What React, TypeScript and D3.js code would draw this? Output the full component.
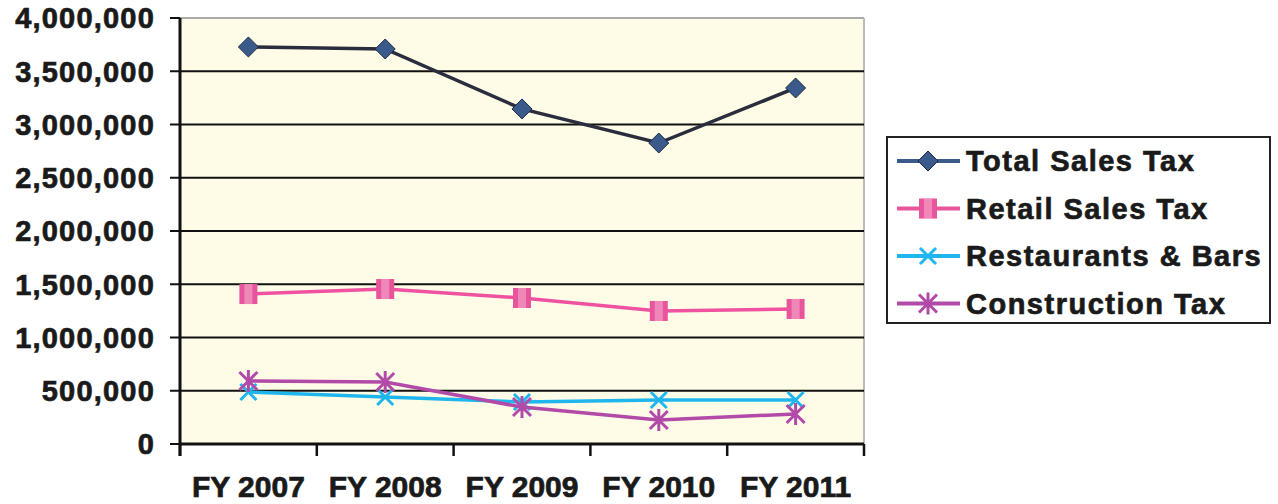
import React from "react";
import * as d3 from "d3";

// categories and series
const years = ["FY 2007", "FY 2008", "FY 2009", "FY 2010", "FY 2011"];
const totalSales = [3728000, 3709000, 3146000, 2826000, 3343000];
const retailSales = [1408000, 1455000, 1371000, 1249000, 1268000];
const restaurants = [488000, 441000, 394000, 413000, 413000];
const construction = [592000, 582000, 347000, 225000, 282000];
const yTicks = [0, 500000, 1000000, 1500000, 2000000, 2500000, 3000000, 3500000, 4000000];

const seriesList = [
  { name: "Total Sales Tax", values: totalSales, line: "#2a2d3e", fill: "#3b5a8c", marker: "diamond" },
  { name: "Retail Sales Tax", values: retailSales, line: "#f052a2", fill: "#e8559c", marker: "square" },
  { name: "Restaurants & Bars", values: restaurants, line: "#1fb6ee", fill: "#1fb6ee", marker: "x" },
  { name: "Construction Tax", values: construction, line: "#b24aaa", fill: "#b24aaa", marker: "star" },
];

const W = 1278;
const H = 504;
const left = 180;
const right = 864;
const top = 18;
const bottom = 444;
const font = "'Liberation Sans', Arial, sans-serif";
const ink = "#1a1a1a";

function Marker({ kind, x, y, color }) {
  if (kind === "diamond") {
    const s = 10;
    return <path d={`M${x},${y - s}L${x + s},${y}L${x},${y + s}L${x - s},${y}Z`} fill={color} stroke="#1e2a44" strokeWidth={1} />;
  }
  if (kind === "square") {
    return (
      <g>
        <rect x={x - 9} y={y - 10} width={18} height={20} fill={color} />
        <rect x={x - 4} y={y - 10} width={8} height={20} fill="#f49cc6" opacity={0.7} />
      </g>
    );
  }
  if (kind === "x") {
    const s = 8;
    return <path d={`M${x - s},${y - s}L${x + s},${y + s}M${x - s},${y + s}L${x + s},${y - s}`} stroke={color} strokeWidth={3} />;
  }
  const s = 9;
  return (
    <path
      d={`M${x - s},${y - s}L${x + s},${y + s}M${x - s},${y + s}L${x + s},${y - s}M${x},${y - s - 2}L${x},${y + s + 2}`}
      stroke={color}
      strokeWidth={3}
    />
  );
}

export default function App() {
  const x = d3.scaleBand().domain(years).range([left, right]);
  const y = d3.scaleLinear().domain([0, 4000000]).range([bottom, top]);
  const fmt = d3.format(",");

  const lineGen = d3
    .line<number>()
    .x((_, i) => (x(years[i]) as number) + x.bandwidth() / 2)
    .y((d) => y(d));

  const legendX = 887;
  const legendY = 137;
  const rowH = 47.5;

  const textStyle = { fontFamily: font, fontWeight: "bold", fill: ink, stroke: ink, strokeWidth: 0.7 } as const;

  return (
    <svg width={W} height={H} style={{ position: "absolute", left: 0, top: 0, background: "#fff" }}>
      {/* plot area */}
      <rect x={left} y={top} width={right - left} height={bottom - top} fill="#fefce6" />
      <line x1={left} x2={right} y1={top} y2={top} stroke="#aaa" strokeWidth={2} />
      <line x1={right} x2={right} y1={top} y2={bottom} stroke="#bbb" strokeWidth={2} />

      {/* gridlines and y labels */}
      {yTicks.map((t) => (
        <g key={t}>
          {t > 0 && t < 4000000 && (
            <line x1={left} x2={right} y1={y(t)} y2={y(t)} stroke="#111" strokeWidth={2} />
          )}
          <line x1={left - 10} x2={left} y1={y(t)} y2={y(t)} stroke="#111" strokeWidth={2} />
          <text x={155} y={y(t)} dy="0.36em" textAnchor="end" fontSize={29} letterSpacing={1.2} {...textStyle}>
            {fmt(t)}
          </text>
        </g>
      ))}

      {/* axes */}
      <line x1={left} x2={left} y1={top} y2={bottom + 12} stroke="#111" strokeWidth={3} />
      <line x1={left} x2={right} y1={bottom} y2={bottom} stroke="#111" strokeWidth={3} />
      {years.concat(["end"]).map((yr, i) => {
        const px = left + i * x.bandwidth();
        return <line key={yr} x1={px} x2={px} y1={bottom} y2={bottom + 12} stroke="#111" strokeWidth={2.5} />;
      })}
      {years.map((yr) => (
        <text key={yr} x={(x(yr) as number) + x.bandwidth() / 2} y={497} textAnchor="middle" fontSize={30} {...textStyle}>
          {yr}
        </text>
      ))}

      {/* series */}
      {seriesList.map((s) => (
        <g key={s.name}>
          <path d={lineGen(s.values) as string} fill="none" stroke={s.line} strokeWidth={3.5} />
          {s.values.map((v, i) => (
            <Marker key={i} kind={s.marker} x={(x(years[i]) as number) + x.bandwidth() / 2} y={y(v)} color={s.fill} />
          ))}
        </g>
      ))}

      {/* legend */}
      <rect x={legendX} y={legendY} width={383} height={186} fill="#fff" stroke="#222" strokeWidth={2} />
      {seriesList.map((s, i) => {
        const cy = legendY + 24 + i * rowH;
        return (
          <g key={s.name}>
            <line x1={897} x2={960} y1={cy} y2={cy} stroke={s.fill} strokeWidth={4} />
            <Marker kind={s.marker} x={928} y={cy} color={s.fill} />
            <text x={966} y={cy} dy="0.36em" fontSize={29} letterSpacing={1.5} {...textStyle}>
              {s.name}
            </text>
          </g>
        );
      })}
    </svg>
  );
}
